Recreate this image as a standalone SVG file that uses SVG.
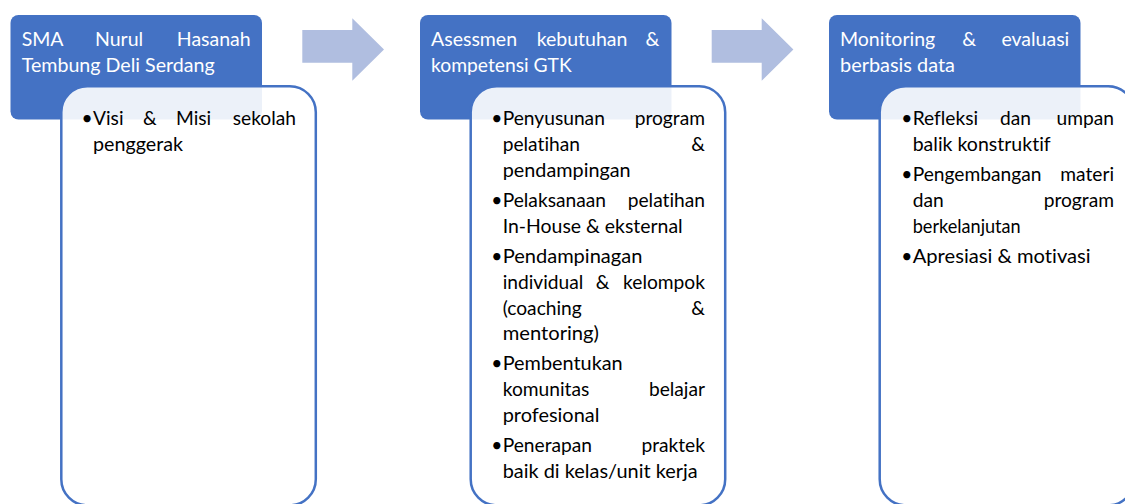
<svg xmlns="http://www.w3.org/2000/svg" width="1125" height="504" viewBox="0 0 1125 504">
<style>
.hdr{fill:#4472C4;}
.body{fill:#FFFFFF;fill-opacity:0.9;stroke:#4472C4;stroke-width:2.5;}
.arrow{fill:#B0BEE0;}
.ht{font-family:Lato,"Open Sans",sans-serif;font-size:19.5px;fill:#FFFFFF;font-variant-ligatures:none;}
.bt{font-family:Lato,"Open Sans",sans-serif;font-size:19.2px;fill:#000000;font-variant-ligatures:none;}
.e{text-anchor:end;}
</style>
<rect width="1125" height="504" fill="#FFFFFF"/>
<g id="connectors">
<polygon class="arrow" points="302.3,30 352.3,30 352.3,18.3 384,49.5 352.3,80.7 352.3,62.7 302.3,62.7"/>
<polygon class="arrow" points="711.7,30 761.7,30 761.7,18.3 793.4,49.5 761.7,80.7 761.7,62.7 711.7,62.7"/>
</g>
<g id="node1">
<rect class="hdr" x="10.5" y="15" width="251.5" height="104.5" rx="8"/>
<text class="ht" x="21.7" y="46">SMA</text>
<text class="ht" x="95" y="46">Nurul</text>
<text class="ht e" x="250.7" y="46">Hasanah</text>
<text class="ht" x="21.7" y="72" textLength="193" lengthAdjust="spacingAndGlyphs">Tembung Deli Serdang</text>
<rect class="body" x="61.3" y="86.3" width="254.5" height="419" rx="26"/>
<text class="bt" x="81.5" y="125">•</text>
<text class="bt" x="93" y="125">Visi</text>
<text class="bt" x="143" y="125">&amp;</text>
<text class="bt" x="176" y="125">Misi</text>
<text class="bt e" x="296" y="125">sekolah</text>
<text class="bt" x="93" y="151" textLength="90" lengthAdjust="spacingAndGlyphs">penggerak</text>
</g>
<g id="node2">
<rect class="hdr" x="420" y="15" width="251.5" height="104.5" rx="8"/>
<text class="ht" x="431" y="46">Asessmen</text>
<text class="ht" x="536.7" y="46">kebutuhan</text>
<text class="ht e" x="659.3" y="46">&amp;</text>
<text class="ht" x="431" y="72" textLength="140.7" lengthAdjust="spacingAndGlyphs">kompetensi GTK</text>
<rect class="body" x="470.7" y="86.3" width="254.5" height="419" rx="26"/>
<text class="bt" x="491.2" y="125">•</text>
<text class="bt" x="502.7" y="125">Penyusunan</text>
<text class="bt e" x="705" y="125">program</text>
<text class="bt" x="502.7" y="151">pelatihan</text>
<text class="bt e" x="705" y="151">&amp;</text>
<text class="bt" x="502.7" y="177" textLength="128" lengthAdjust="spacingAndGlyphs">pendampingan</text>
<text class="bt" x="491.2" y="207">•</text>
<text class="bt" x="502.7" y="207">Pelaksanaan</text>
<text class="bt e" x="705" y="207">pelatihan</text>
<text class="bt" x="502.7" y="233" textLength="180" lengthAdjust="spacingAndGlyphs">In-House &amp; eksternal</text>
<text class="bt" x="491.2" y="263">•</text>
<text class="bt" x="502.7" y="263" textLength="139.7" lengthAdjust="spacingAndGlyphs">Pendampinagan</text>
<text class="bt" x="502.7" y="289">individual</text>
<text class="bt" x="595.7" y="289">&amp;</text>
<text class="bt e" x="705" y="289">kelompok</text>
<text class="bt" x="502.7" y="315">(coaching</text>
<text class="bt e" x="705" y="315">&amp;</text>
<text class="bt" x="502.7" y="340" textLength="96.3" lengthAdjust="spacingAndGlyphs">mentoring)</text>
<text class="bt" x="491.2" y="370">•</text>
<text class="bt" x="502.7" y="370" textLength="120" lengthAdjust="spacingAndGlyphs">Pembentukan</text>
<text class="bt" x="502.7" y="396">komunitas</text>
<text class="bt e" x="705" y="396">belajar</text>
<text class="bt" x="502.7" y="422" textLength="96.7" lengthAdjust="spacingAndGlyphs">profesional</text>
<text class="bt" x="491.2" y="452">•</text>
<text class="bt" x="502.7" y="452">Penerapan</text>
<text class="bt e" x="705" y="452">praktek</text>
<text class="bt" x="502.7" y="478" textLength="195" lengthAdjust="spacingAndGlyphs">baik di kelas/unit kerja</text>
</g>
<g id="node3">
<rect class="hdr" x="829" y="15" width="251.5" height="104.5" rx="8"/>
<text class="ht" x="840" y="46">Monitoring</text>
<text class="ht" x="962.3" y="46">&amp;</text>
<text class="ht e" x="1069.3" y="46">evaluasi</text>
<text class="ht" x="840" y="72" textLength="115" lengthAdjust="spacingAndGlyphs">berbasis data</text>
<rect class="body" x="879.7" y="86.3" width="254.5" height="419" rx="26"/>
<text class="bt" x="901.2" y="125">•</text>
<text class="bt" x="912.7" y="125">Refleksi</text>
<text class="bt" x="1000" y="125">dan</text>
<text class="bt e" x="1114" y="125">umpan</text>
<text class="bt" x="912.7" y="151" textLength="138" lengthAdjust="spacingAndGlyphs">balik konstruktif</text>
<text class="bt" x="901.2" y="181">•</text>
<text class="bt" x="912.7" y="181">Pengembangan</text>
<text class="bt e" x="1114" y="181">materi</text>
<text class="bt" x="912.7" y="207">dan</text>
<text class="bt e" x="1114" y="207">program</text>
<text class="bt" x="912.7" y="233" textLength="108" lengthAdjust="spacingAndGlyphs">berkelanjutan</text>
<text class="bt" x="901.2" y="263">•</text>
<text class="bt" x="912.7" y="263" textLength="178" lengthAdjust="spacingAndGlyphs">Apresiasi &amp; motivasi</text>
</g>
</svg>
